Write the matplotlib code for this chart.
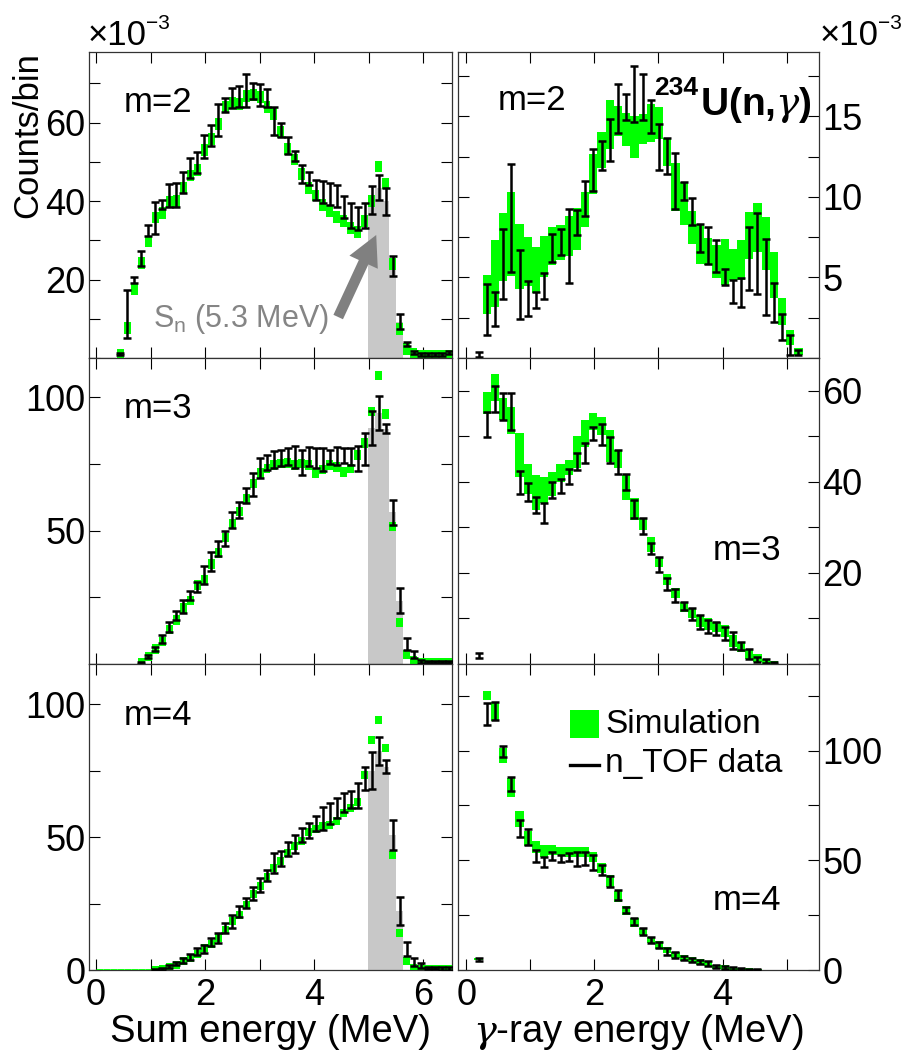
"""Sum-energy and gamma-ray spectra for 234U(n,g): n_TOF data vs simulation."""

import matplotlib

matplotlib.use("Agg")
import matplotlib.pyplot as plt
import numpy as np
from matplotlib.patches import FancyArrowPatch, Rectangle

plt.rcParams["font.family"] = ["Liberation Sans", "DejaVu Sans"]
plt.rcParams["mathtext.fontset"] = "custom"
plt.rcParams["mathtext.rm"] = "Liberation Sans"
plt.rcParams["mathtext.it"] = "DejaVu Serif:italic"
plt.rcParams["mathtext.bf"] = "DejaVu Serif:bold"

BIN_WIDTH = 0.128  # MeV, both spectra
SN_BINS = (39, 44)  # bins shaded grey around S_n

# ---- sum energy, m=2 (counts/bin x 1e-3) ----
SUM_M2_DATA_FIRST = 3
SUM_M2_DATA = [1.0, 11.3, 19.8, 25.4, 32.6, 35.6, 39.2, 41.4, 41.6, 44.8,
               48.4, 49.9, 53.9, 56.7, 60.6, 64.5, 66.2, 66.7, 68.2, 68.1,
               67.0, 66.3, 60.5, 58.1, 54.2, 51.4, 46.9, 45.8, 42.9, 42.3,
               41.9, 41.4, 38.5, 36.4, 35.6, 36.4, 40.3, 43.4, 39.9, 23.4,
               9.2, 3.6, 1.5, 1.0, 0.9, 0.8, 0.9, 1.4]
SUM_M2_ERR = [0.3, 6.1, 0.8, 2.0, 1.4, 4.1, 1.2, 3.0, 3.1, 2.7,
              2.5, 2.7, 3.0, 2.7, 4.1, 1.7, 2.5, 2.6, 4.3, 2.1,
              2.8, 2.3, 3.6, 1.7, 2.2, 1.3, 2.3, 1.7, 2.5, 2.8,
              2.8, 2.8, 2.8, 3.2, 3.0, 3.2, 3.6, 3.2, 3.4, 2.5,
              1.9, 0.6, 0.4, 0.4, 0.4, 0.4, 0.4, 0.4]
SUM_M2_SIM_FIRST = 3
SUM_M2_SIM = [0.8, 7.6, 17.5, 24.3, 29.7, 35.8, 37.0, 39.9, 40.0, 43.3,
              46.5, 48.0, 53.0, 55.9, 59.6, 64.0, 65.1, 64.7, 66.8, 67.0,
              66.5, 63.9, 62.1, 57.7, 53.3, 50.6, 47.0, 43.3, 41.4, 39.0,
              37.4, 36.0, 34.9, 33.2, 32.2, 35.0, 40.0, 48.8, 44.5, 24.0,
              7.3, 2.3, 1.0, 0.6, 0.6, 0.6, 0.6, 0.6]
SUM_M2_SIM_ERR = 1.5

# ---- sum energy, m=3 ----
SUM_M3_DATA_FIRST = 6
SUM_M3_DATA = [0.3, 2.75, 5.6, 9.4, 14.0, 18.1, 21.5, 25.7, 29.0, 33.2,
               38.3, 43.2, 46.9, 53.9, 57.8, 63.2, 67.2, 73.5, 75.7, 76.6,
               77.2, 77.8, 77.6, 75.7, 77.8, 77.2, 76.6, 77.6, 78.1, 78.1,
               77.8, 77.0, 80.7, 88.5, 94.1, 88.2, 56.9, 23.8, 7.5, 3.4,
               1.0, 0.8, 0.8, 0.7, 0.6]
SUM_M3_ERR = [0.3, 0.6, 0.9, 1.6, 1.9, 1.6, 2.5, 1.6, 1.9, 3.4,
              3.6, 2.8, 2.8, 2.9, 3.1, 2.8, 4.4, 3.8, 2.8, 3.1,
              3.1, 3.1, 4.0, 4.7, 3.7, 3.7, 4.4, 2.8, 3.4, 2.8,
              3.1, 4.7, 6.0, 6.3, 6.3, 1.6, 4.7, 4.7, 2.2, 1.3,
              0.6, 0.4, 0.4, 0.4, 0.4]
SUM_M3_SIM_FIRST = 6
SUM_M3_SIM = [0.3, 2.75, 5.6, 8.4, 13.0, 16.5, 20.9, 23.8, 29.5, 31.5,
              37.5, 41.5, 47.4, 52.6, 57.1, 62.1, 67.6, 71.5, 73.3, 74.5,
              75.1, 75.4, 74.5, 75.1, 74.6, 71.6, 72.9, 74.5, 73.9, 71.9,
              73.3, 78.4, 82.8, 94.6, 108.2, 93.8, 51.6, 15.6, 3.6, 1.2,
              0.5, 0.5, 0.5, 0.5, 0.5]
SUM_M3_SIM_ERR = 1.8

# ---- sum energy, m=4 ----
SUM_M4_DATA_FIRST = 8
SUM_M4_DATA = [0.1, 0.4, 1.25, 2.5, 3.5, 5.0, 6.9, 7.9, 10.4, 11.9,
               15.7, 18.2, 22.0, 25.1, 28.9, 32.0, 35.5, 40.2, 41.8, 45.5,
               47.4, 50.8, 52.4, 55.0, 57.0, 59.0, 61.0, 63.0, 64.2, 65.8,
               72.1, 75.0, 82.5, 76.5, 50.8, 22.3, 7.9, 2.9, 1.6, 0.8,
               0.8, 0.6, 0.6]
SUM_M4_ERR = [0.2, 0.3, 0.6, 0.6, 0.9, 1.2, 1.2, 1.5, 1.5, 1.9,
              1.9, 2.5, 1.9, 1.9, 2.5, 2.5, 2.2, 3.8, 2.8, 2.8,
              3.4, 2.5, 2.8, 2.8, 4.4, 4.0, 3.8, 3.4, 3.2, 4.7,
              4.4, 7.0, 5.3, 2.5, 5.6, 5.3, 2.8, 1.5, 0.9, 0.5,
              0.5, 0.5, 0.5]
SUM_M4_SIM_FIRST = 0
SUM_M4_SIM = [0.0, 0.0, 0.0, 0.0, 0.0, 0.0, 0.0, 0.0,
              0.1, 0.4, 1.0, 2.0, 3.3, 4.5, 6.2, 8.1, 9.8, 11.9,
              15.0, 18.5, 20.7, 24.5, 28.5, 31.5, 35.0, 38.5, 41.0, 44.0,
              46.5, 48.7, 51.8, 53.0, 54.0, 54.6, 56.2, 59.0, 60.9, 63.1,
              73.4, 86.6, 94.0, 83.4, 43.3, 13.8, 3.4, 0.8, 0.4, 0.4,
              0.4, 0.4, 0.4]
SUM_M4_SIM_ERR = 1.5

# ---- gamma-ray energy, m=2 ----
GAM_M2_DATA_FIRST = 1
GAM_M2_DATA = [0.2, 3.0, 3.06, 5.85, 8.7, 4.57, 3.7, 3.6, 4.48, 6.85,
               7.2, 6.94, 8.4, 9.9, 11.7, 12.57, 13.55, 15.5, 15.6, 16.4,
               16.2, 15.0, 13.1, 12.55, 11.0, 10.36, 9.1, 7.47, 6.98, 6.34,
               5.02, 4.11, 4.07, 6.18, 6.5, 5.04, 3.45, 1.93, 0.81, 0.36]
GAM_M2_ERR = [0.15, 1.57, 1.05, 2.19, 3.37, 2.16, 1.08, 0.5, 0.8, 0.88,
              0.82, 2.3, 0.77, 1.06, 1.3, 0.88, 1.29, 1.5, 0.82, 1.75,
              1.41, 1.05, 1.44, 1.1, 1.73, 0.57, 0.86, 0.88, 1.16, 0.98,
              0.5, 0.72, 0.88, 1.96, 2.5, 2.37, 1.19, 0.8, 0.62, 0.15]
GAM_M2_SIM_FIRST = 2
GAM_M2_SIM = [3.93, 5.25, 6.9, 7.7, 6.3, 6.0, 5.45, 6.3, 6.96,
              7.16, 7.6, 8.0, 9.2, 11.4, 12.9, 14.5, 14.7, 14.2, 13.7,
              14.2, 14.6, 14.6, 12.8, 10.6, 9.6, 8.1, 7.1, 6.6, 5.97,
              5.97, 5.8, 6.07, 7.6, 8.1, 7.1, 5.14, 2.88, 1.29, 0.4]
GAM_M2_SIM_ERR = [1.22, 2.06, 2.1, 2.6, 2.0, 1.5, 1.44, 1.3, 1.2,
                  1.08, 1.24, 1.3, 1.08, 1.24, 1.13, 1.5, 0.93, 1.03, 1.3,
                  0.93, 1.2, 1.0, 0.88, 1.5, 1.34, 1.03, 1.24, 0.82, 1.03,
                  1.44, 0.98, 1.24, 1.44, 1.5, 1.65, 1.44, 0.82, 0.46, 0.2]

# ---- gamma-ray energy, m=3 ----
GAM_M3_DATA_FIRST = 1
GAM_M3_DATA = [1.9, 52.7, 58.2, 56.6, 55.5, 39.9, 37.8, 34.9, 33.2, 38.2,
               39.1, 41.2, 44.5, 46.4, 50.7, 50.5, 47.0, 44.4, 40.0, 34.1,
               30.3, 25.4, 21.8, 17.5, 15.0, 12.7, 10.9, 9.2, 8.2, 7.8,
               6.7, 5.2, 4.0, 2.2, 1.0, 0.6, 0.2]
GAM_M3_ERR = [0.5, 2.75, 2.8, 3.0, 4.1, 2.5, 2.0, 1.8, 2.2, 1.8,
              1.6, 1.7, 1.8, 2.2, 1.4, 2.3, 2.9, 2.7, 1.7, 2.0,
              1.7, 1.2, 1.7, 1.3, 1.4, 0.9, 1.3, 1.5, 1.4, 1.5,
              1.5, 1.8, 0.9, 1.2, 0.5, 0.4, 0.3]
GAM_M3_SIM_FIRST = 2
GAM_M3_SIM = [57.4, 60.7, 56.0, 53.5, 45.9, 40.7, 37.7, 38.2, 39.5,
              42.0, 43.1, 46.5, 50.6, 53.3, 52.3, 47.9, 45.1, 38.8, 34.0,
              30.7, 26.3, 22.4, 18.5, 15.5, 12.5, 11.1, 9.5, 8.7, 8.1,
              7.3, 5.1, 3.7, 2.3, 1.3, 0.6, 0.3]
GAM_M3_SIM_ERR = [2.4, 3.0, 2.4, 2.9, 4.8, 3.3, 3.8, 2.9, 2.7,
                  2.0, 1.6, 3.5, 2.9, 1.9, 2.0, 3.5, 2.0, 2.7, 2.4,
                  1.3, 1.6, 1.1, 1.2, 1.1, 1.1, 1.1, 1.3, 1.3, 1.1,
                  1.3, 1.3, 1.1, 1.1, 0.9, 0.6, 0.3]

# ---- gamma-ray energy, m=4 ----
GAM_M4_DATA_FIRST = 1
GAM_M4_DATA = [4.7, 116.7, 118.2, 99.7, 84.8, 64.6, 60.6, 52.1, 49.4, 52.1,
               50.9, 51.4, 50.6, 50.9, 49.1, 45.6, 40.4, 34.2, 27.4, 22.2,
               17.5, 13.8, 11.4, 8.4, 6.7, 5.5, 4.7, 3.6, 2.9, 1.5,
               1.1, 0.6, 0.3, 0.2, 0.1]
GAM_M4_ERR = [0.6, 5.0, 4.2, 2.4, 3.4, 3.8, 3.6, 2.7, 2.3, 1.9,
              1.5, 1.9, 3.4, 3.0, 3.4, 2.3, 2.4, 2.3, 1.5, 1.7,
              1.5, 1.4, 1.5, 1.5, 1.3, 0.9, 0.9, 0.9, 1.0, 0.8,
              0.8, 0.6, 0.5, 0.4, 0.3]
GAM_M4_SIM_FIRST = 1
GAM_M4_SIM = [5.0, 125.2, 117.8, 97.7, 83.1, 69.0, 60.0, 55.9, 54.4, 54.7,
              54.4, 54.0, 54.0, 54.0, 51.7, 46.4, 40.7, 33.7, 27.1, 21.7,
              17.5, 13.7, 11.5, 9.0, 6.8, 5.5, 4.7, 3.6, 2.9, 1.5,
              1.1, 0.6, 0.3, 0.2, 0.1]
GAM_M4_SIM_ERR = [0.6, 2.1, 4.5, 3.4, 4.3, 3.6, 3.5, 2.7, 2.7, 2.3,
                  1.9, 2.3, 2.3, 2.3, 2.3, 2.3, 2.7, 2.5, 1.9, 1.9,
                  1.5, 1.5, 1.7, 1.4, 1.5, 1.2, 1.2, 1.2, 1.2, 1.0,
                  1.0, 0.8, 0.6, 0.5, 0.4]

GREEN = "#00ff00"
SN_GREY = "#c8c8c8"
TEXT_GREY = "#858585"
W, H = 903, 1050


def fx(px):
    return px / W


def fy(py):
    return 1.0 - py / H


def centers(first, n):
    return (np.arange(first, first + n) + 0.5) * BIN_WIDTH


def draw_panel(ax, data_first, data, err, sim_first, sim, sim_err, shade=False):
    sim = np.asarray(sim, dtype=float)
    sim_err = np.broadcast_to(np.asarray(sim_err, dtype=float), sim.shape)
    xs = centers(sim_first, len(sim))
    on = sim > 0
    ax.bar(xs[on], 2 * sim_err[on], bottom=sim[on] - sim_err[on], width=BIN_WIDTH,
           color=GREEN, linewidth=0, zorder=3)
    if (~on).any():
        ax.hlines(np.zeros((~on).sum()), xs[~on] - BIN_WIDTH / 2, xs[~on] + BIN_WIDTH / 2,
                  color=GREEN, linewidth=2.0, zorder=3)

    xd = centers(data_first, len(data))
    if shade:
        lo, hi = SN_BINS
        idx = np.arange(lo, hi) - data_first
        edges = np.arange(lo, hi + 1) * BIN_WIDTH
        heights = np.asarray(data)[idx]
        ax.stairs(heights, edges, fill=True, color=SN_GREY, zorder=2)
    ax.errorbar(xd, data, yerr=err, fmt="none", ecolor="black", elinewidth=1.8,
                capsize=2.8, capthick=1.8, zorder=4)


def style_axis(ax, xlim, ylim, ystep, ylabels, right, xlabels):
    ax.set_xlim(*xlim)
    ax.set_ylim(*ylim)
    xt = np.arange(0, xlim[1], 1.0)
    ax.set_xticks(xt)
    ax.set_xticklabels([f"{t:g}" if (t % 2 == 0 and xlabels) else "" for t in xt])
    yt = np.arange(0, ylim[1], ystep)
    ax.set_yticks(yt)
    ax.set_yticklabels([f"{t:g}" if t in ylabels else "" for t in yt])
    ax.tick_params(axis="both", direction="in", length=8, width=0.8,
                   top=True, bottom=True, left=True, right=True,
                   labelsize=26, colors="black")
    ax.tick_params(axis="x", pad=5.5)
    ax.tick_params(axis="y", pad=2.5)
    if right:
        ax.tick_params(axis="y", labelleft=False, labelright=True)
    for s in ax.spines.values():
        s.set_linewidth(0.9)
        s.set_color("#333333")


def main():
    fig = plt.figure(figsize=(W / 100, H / 100), dpi=100)

    rows = [(52, 358), (358, 664), (664, 970)]
    left_cols = (89, 452)
    right_cols = (458, 819)

    def add(col, row):
        x0, x1 = col
        y0, y1 = rows[row]
        return fig.add_axes([fx(x0), fy(y1), (x1 - x0) / W, (y1 - y0) / H])

    sum_xlim = (-BIN_WIDTH, 51 * BIN_WIDTH)
    gam_xlim = (-BIN_WIDTH, 43 * BIN_WIDTH)

    ax = add(left_cols, 0)
    draw_panel(ax, SUM_M2_DATA_FIRST, SUM_M2_DATA, SUM_M2_ERR,
               SUM_M2_SIM_FIRST, SUM_M2_SIM, SUM_M2_SIM_ERR, shade=True)
    style_axis(ax, sum_xlim, (0, 78), 10, (20, 40, 60), False, False)
    ax.add_patch(FancyArrowPatch((4.42, 9.8), (5.16, 32.0),
                                 arrowstyle="simple,head_length=1.2,head_width=1.25,tail_width=0.42",
                                 mutation_scale=18, color="#808080", linewidth=0, zorder=5))
    ax.text(1.05, 7.8, r"S$_\mathregular{n}$ (5.3 MeV)", fontsize=22,
            color=TEXT_GREY, ha="left", va="baseline", zorder=6)

    ax = add(left_cols, 1)
    draw_panel(ax, SUM_M3_DATA_FIRST, SUM_M3_DATA, SUM_M3_ERR,
               SUM_M3_SIM_FIRST, SUM_M3_SIM, SUM_M3_SIM_ERR, shade=True)
    style_axis(ax, sum_xlim, (0, 114.7), 25, (50, 100), False, False)

    ax = add(left_cols, 2)
    draw_panel(ax, SUM_M4_DATA_FIRST, SUM_M4_DATA, SUM_M4_ERR,
               SUM_M4_SIM_FIRST, SUM_M4_SIM, SUM_M4_SIM_ERR, shade=True)
    style_axis(ax, sum_xlim, (0, 115.1), 25, (0, 50, 100), False, True)

    ax = add(right_cols, 0)
    draw_panel(ax, GAM_M2_DATA_FIRST, GAM_M2_DATA, GAM_M2_ERR,
               GAM_M2_SIM_FIRST, GAM_M2_SIM, GAM_M2_SIM_ERR)
    style_axis(ax, gam_xlim, (0.1, 19.0), 2.5, (5, 10, 15), True, False)

    ax = add(right_cols, 1)
    draw_panel(ax, GAM_M3_DATA_FIRST, GAM_M3_DATA, GAM_M3_ERR,
               GAM_M3_SIM_FIRST, GAM_M3_SIM, GAM_M3_SIM_ERR)
    style_axis(ax, gam_xlim, (0, 67.2), 10, (20, 40, 60), True, False)

    ax = add(right_cols, 2)
    draw_panel(ax, GAM_M4_DATA_FIRST, GAM_M4_DATA, GAM_M4_ERR,
               GAM_M4_SIM_FIRST, GAM_M4_SIM, GAM_M4_SIM_ERR)
    style_axis(ax, gam_xlim, (0, 139.5), 25, (0, 50, 100), True, True)

    # axis titles and multipliers
    fig.text(fx((89 + 452) / 2), fy(1042), "Sum energy (MeV)", fontsize=27.5,
             ha="center", va="baseline")
    fig.text(fx((458 + 819) / 2), fy(1042), r"$\gamma$-ray energy (MeV)", fontsize=27.5,
             ha="center", va="baseline")
    fig.text(fx(28), fy(52), "Counts/bin", rotation=90, fontsize=25,
             ha="center", va="top")
    for x0 in (88, 820):
        fig.text(fx(x0), fy(45), "\u00d710", fontsize=25, ha="left", va="baseline")
        fig.text(fx(x0 + 58), fy(29), "\u22123", fontsize=15, ha="left", va="baseline")

    # multiplicity labels
    for x0, y0, lab in ((124, 112, "m=2"), (498, 110, "m=2"), (124, 418, "m=3"),
                        (713, 560, "m=3"), (124, 725, "m=4"), (713, 910, "m=4")):
        fig.text(fx(x0), fy(y0), lab, fontsize=25, ha="left", va="baseline")

    fig.text(fx(654), fy(95), "234", fontsize=19, fontweight="bold",
             ha="left", va="baseline")
    fig.text(fx(700), fy(115), r"U(n,$\gamma$)", fontsize=28, fontweight="bold",
             ha="left", va="baseline")

    # legend
    fig.patches.append(Rectangle((fx(570), fy(738)), 29 / W, 28 / H,
                                 transform=fig.transFigure, color=GREEN, linewidth=0))
    fig.lines.append(plt.Line2D([fx(570), fx(599)], [fy(765), fy(765)],
                                transform=fig.transFigure, color="black", linewidth=2.4))
    fig.text(fx(605), fy(733), "Simulation", fontsize=24, ha="left", va="baseline")
    fig.text(fx(605), fy(772), "n_TOF data", fontsize=24, ha="left", va="baseline")

    fig.savefig("out.png", dpi=100)
    plt.close(fig)


if __name__ == "__main__":
    main()
